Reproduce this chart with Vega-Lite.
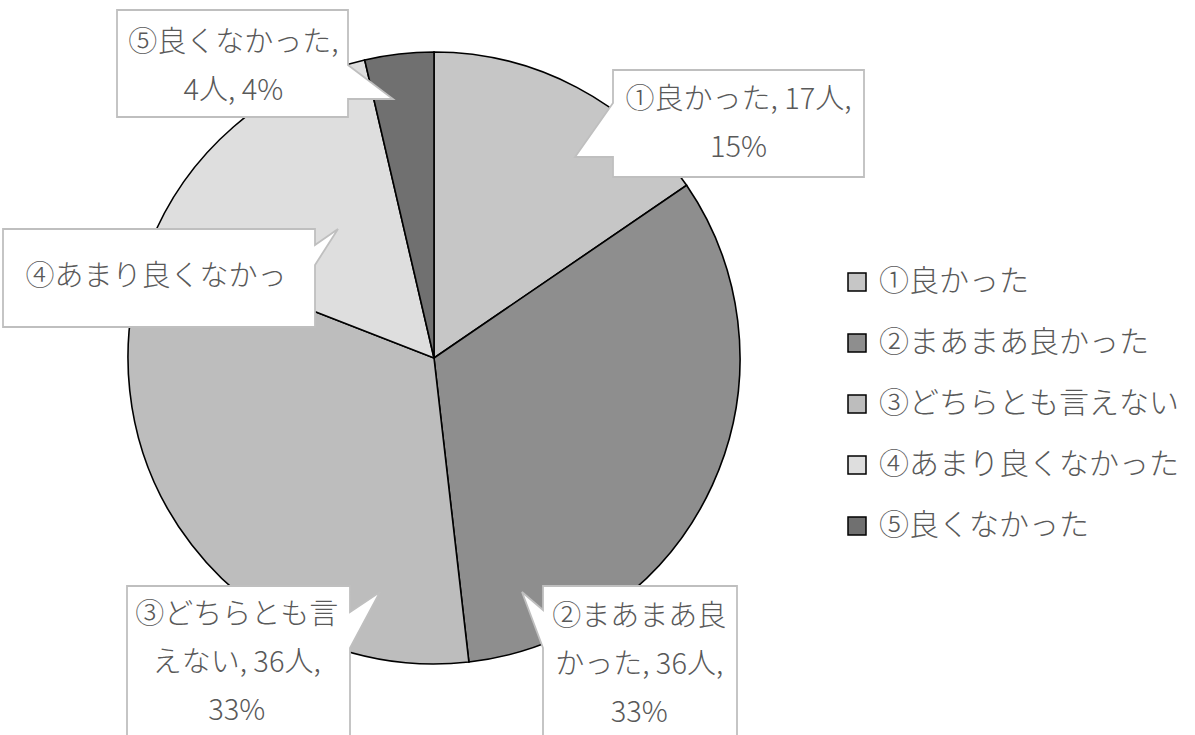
{
  "$schema": "https://vega.github.io/schema/vega-lite/v6.json",
  "width": 868,
  "height": 716,
  "autosize": {"type": "none"},
  "padding": {"left": 0, "top": 0, "right": 327, "bottom": 19},
  "background": "white",
  "config": {"view": {"stroke": null}, "font": "Noto Sans CJK JP"},
  "data": {
    "values": [
      {"cat": "①良かった", "n": 17, "label": "①良かった, 17人,\n15%"},
      {"cat": "②まあまあ良かった", "n": 36, "label": "②まあまあ良\nかった, 36人,\n33%"},
      {"cat": "③どちらとも言えない", "n": 36, "label": "③どちらとも言\nえない, 36人,\n33%"},
      {"cat": "④あまり良くなかった", "n": 17, "label": "④あまり良くなかっ"},
      {"cat": "⑤良くなかった", "n": 4, "label": "⑤良くなかった,\n4人, 4%"}
    ]
  },
  "layer": [
    {
      "mark": {"type": "arc", "radius": 306, "stroke": "black", "strokeWidth": 1.6},
      "encoding": {
        "theta": {"field": "n", "type": "quantitative", "stack": true},
        "order": {"field": "cat", "type": "ordinal", "sort": "ascending"},
        "fill": {
          "field": "cat",
          "type": "nominal",
          "scale": {
            "domain": ["①良かった", "②まあまあ良かった", "③どちらとも言えない", "④あまり良くなかった", "⑤良くなかった"],
            "range": ["#c6c6c6", "#8e8e8e", "#bdbdbd", "#dedede", "#707070"]
          },
          "legend": {
            "orient": "none",
            "legendX": 842,
            "legendY": 267,
            "title": null,
            "padding": 0,
            "symbolType": "square",
            "symbolSize": 324,
            "symbolStrokeColor": "black",
            "symbolStrokeWidth": 1.5,
            "symbolOpacity": 1,
            "labelFont": "Noto Sans CJK JP",
            "labelFontSize": 30,
            "labelFontWeight": 300,
            "labelColor": "#595959",
            "labelOffset": 7,
            "labelLimit": 500,
            "rowPadding": 31
          }
        }
      }
    },
    {
      "mark": {"type": "point", "filled": true, "fill": "white", "stroke": "#bfbfbf", "strokeWidth": 1.8, "opacity": 1, "size": 4},
      "encoding": {
        "shape": {
          "condition": [
            {"test": "datum.cat === '①良かった'", "value": "M179,-288L430,-288L430,-181L179,-181L179,-201L141,-201L179,-255Z"},
            {"test": "datum.cat === '②まあまあ良かった'", "value": "M109,228L303,228L303,390L109,390L109,290L88,234L109,252Z"},
            {"test": "datum.cat === '③どちらとも言えない'", "value": "M-307,228L-84,228L-84,254L-54,234L-84,290L-84,390L-307,390Z"},
            {"test": "datum.cat === '④あまり良くなかった'", "value": "M-431,-129L-119,-129L-119,-113L-96,-129L-119,-93L-119,-31L-431,-31Z"}
          ],
          "value": "M-317,-348L-86,-348L-86,-293L-41,-259L-86,-259L-86,-241L-317,-241Z"
        }
      }
    },
    {"mark": {"type": "text", "radius": 330, "dx": 150.5, "dy": 34, "lineBreak": "\n", "fontSize": 29, "fontWeight": 300, "lineHeight": 48, "fill": "#595959", "baseline": "middle", "align": "center"},
     "encoding": {"theta": {"field": "n", "type": "quantitative", "stack": true}, "order": {"field": "cat", "type": "ordinal", "sort": "ascending"},
       "text": {"condition": {"test": "datum.cat === '①良かった'", "field": "label"}, "value": ""}}},
    {"mark": {"type": "text", "radius": 330, "dx": -95, "dy": 122, "lineBreak": "\n", "fontSize": 29, "fontWeight": 300, "lineHeight": 48, "fill": "#595959", "baseline": "middle", "align": "center"},
     "encoding": {"theta": {"field": "n", "type": "quantitative", "stack": true}, "order": {"field": "cat", "type": "ordinal", "sort": "ascending"},
       "text": {"condition": {"test": "datum.cat === '②まあまあ良かった'", "field": "label"}, "value": ""}}},
    {"mark": {"type": "text", "radius": 330, "dx": 64, "dy": 55.5, "lineBreak": "\n", "fontSize": 29, "fontWeight": 300, "lineHeight": 48, "fill": "#595959", "baseline": "middle", "align": "center"},
     "encoding": {"theta": {"field": "n", "type": "quantitative", "stack": true}, "order": {"field": "cat", "type": "ordinal", "sort": "ascending"},
       "text": {"condition": {"test": "datum.cat === '③どちらとも言えない'", "field": "label"}, "value": ""}}},
    {"mark": {"type": "text", "radius": 330, "dx": -62, "dy": 168, "lineBreak": "\n", "fontSize": 29, "fontWeight": 300, "lineHeight": 48, "fill": "#595959", "baseline": "middle", "align": "center"},
     "encoding": {"theta": {"field": "n", "type": "quantitative", "stack": true}, "order": {"field": "cat", "type": "ordinal", "sort": "ascending"},
       "text": {"condition": {"test": "datum.cat === '④あまり良くなかった'", "field": "label"}, "value": ""}}},
    {"mark": {"type": "text", "radius": 330, "dx": -163, "dy": 13, "lineBreak": "\n", "fontSize": 29, "fontWeight": 300, "lineHeight": 48, "fill": "#595959", "baseline": "middle", "align": "center"},
     "encoding": {"theta": {"field": "n", "type": "quantitative", "stack": true}, "order": {"field": "cat", "type": "ordinal", "sort": "ascending"},
       "text": {"condition": {"test": "datum.cat === '⑤良くなかった'", "field": "label"}, "value": ""}}}
  ]
}
